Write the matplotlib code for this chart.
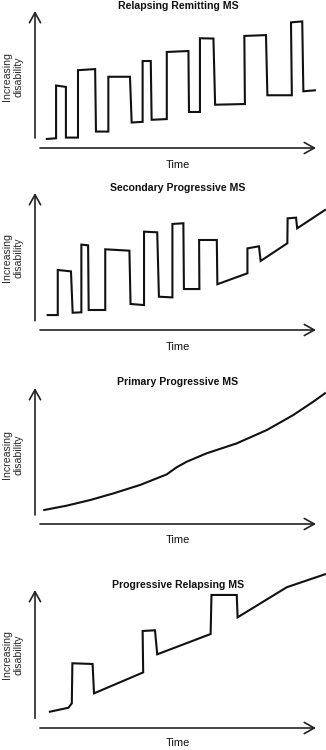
import matplotlib
matplotlib.use("Agg")
import matplotlib.pyplot as plt

plt.rcParams['font.family'] = ['Liberation Sans', 'DejaVu Sans']

titles = ["Relapsing Remitting MS", "Secondary Progressive MS",
          "Primary Progressive MS", "Progressive Relapsing MS"]
x_label = "Time"
y_label = "Increasing\ndisability"

# Relapsing Remitting (time, disability on 0-100 scales)
rr_t = [4.2, 7.5, 7.5, 11.0, 11.0, 15.3, 15.3, 21.4, 21.7, 26.1, 26.1, 33.8, 34.4, 38.3,
        38.3, 41.2, 41.5, 46.9, 46.9, 54.6, 54.8, 58.7, 58.7, 63.5, 64.1, 74.7, 74.5, 82.2,
        82.7, 91.4, 91.1, 95.1, 95.5, 99.6]
rr_d = [6.6, 7.1, 45.6, 44.6, 7.6, 7.6, 56.8, 57.6, 12.0, 12.0, 52.0, 52.0, 18.6, 19.1,
        63.5, 63.5, 20.6, 21.1, 70.1, 70.8, 26.3, 26.3, 80.1, 79.9, 31.6, 32.1, 81.8, 82.4,
        38.5, 38.5, 91.7, 92.4, 41.4, 42.1]

# Secondary Progressive
sp_t = [4.5, 8.1, 8.1, 12.8, 13.4, 16.5, 16.5, 18.9, 19.1, 25.0, 25.0, 33.6, 34.0, 38.8,
        38.8, 43.5, 44.1, 48.9, 48.9, 52.8, 53.0, 58.5, 58.4, 64.7, 64.9, 75.6, 75.6, 79.7,
        80.3, 89.8, 89.9, 92.9, 93.3, 103.2]
sp_d = [10.9, 10.9, 43.8, 42.8, 12.6, 12.9, 62.3, 61.8, 14.6, 14.6, 58.9, 57.9, 19.0, 18.2,
        71.8, 71.3, 24.3, 23.8, 77.4, 77.9, 29.9, 29.9, 65.7, 65.7, 33.4, 41.4, 59.6, 61.1,
        50.4, 63.3, 81.5, 82.0, 74.2, 87.6]

# Primary Progressive
pp_t = [3.3, 11.3, 19.6, 27.9, 37.4, 46.9, 50.4, 54.0, 61.1, 71.8, 82.5, 91.9, 99.0, 103.2]
pp_d = [10.3, 13.5, 17.6, 22.5, 28.7, 36.5, 41.7, 45.8, 52.0, 59.3, 69.1, 80.1, 89.9, 96.1]

# Progressive Relapsing
pr_t = [5.3, 11.9, 13.1, 13.3, 20.5, 21.0, 38.5, 38.3, 42.7, 43.5, 62.5, 62.8, 71.8, 72.1,
        89.6, 103.2]
pr_d = [11.8, 14.7, 17.9, 46.9, 46.4, 25.1, 40.3, 70.3, 70.8, 53.4, 68.1, 96.4, 96.4, 80.2,
        102.0, 111.4]

series = [(rr_t, rr_d), (sp_t, sp_d), (pp_t, pp_d), (pr_t, pr_d)]

W, H = 326, 750
fig = plt.figure(figsize=(W / 100, H / 100), dpi=100)

# layout in pixels: (top of y arrow, x-axis y, y-axis bottom, title y, time y, label y)
panels = [(11, 148, 138, 6, 165, 77),
          (193, 330, 320.7, 187.7, 346.7, 258),
          (388, 524, 515, 381.7, 540, 455),
          (590, 728, 718.3, 585, 743, 655)]

x0, x1 = 35, 316
for (top, xa, ybot, ty, tmy, ly), title, (t, d) in zip(panels, titles, series):
    ax = fig.add_axes([x0 / W, 1 - xa / H, (x1 - x0) / W, (xa - top) / H])
    ax.set_xlim(0, 100)
    ax.set_ylim(0, 100)
    ax.axis('off')
    ax.plot(t, d, color='#111111', lw=1.5, clip_on=False, solid_joinstyle='miter')
    arrow = dict(arrowstyle='->,head_length=0.45,head_width=0.25', color='#222222',
                 lw=1.2, mutation_scale=16, shrinkA=0, shrinkB=0)
    yb = (xa - ybot) / (xa - top)
    ax.annotate('', xy=(0, 1), xytext=(0, yb), xycoords='axes fraction',
                textcoords='axes fraction', arrowprops=arrow, annotation_clip=False)
    ax.annotate('', xy=(1, 0), xytext=((40 - x0) / (x1 - x0), 0), xycoords='axes fraction',
                textcoords='axes fraction', arrowprops=arrow, annotation_clip=False)
    fig.text(178 / W, 1 - ty / H, title, ha='center', va='center', fontsize=7.6,
             fontweight='bold', color='#111111')
    fig.text(178 / W, 1 - tmy / H, x_label, ha='center', va='center', fontsize=7.9,
             color='#111111')
    fig.text(13 / W, 1 - ly / H, y_label, ha='center', va='center', fontsize=7.6,
             rotation=90, color='#2a2a2a', linespacing=1.25)

fig.savefig('out.png', dpi=100)
